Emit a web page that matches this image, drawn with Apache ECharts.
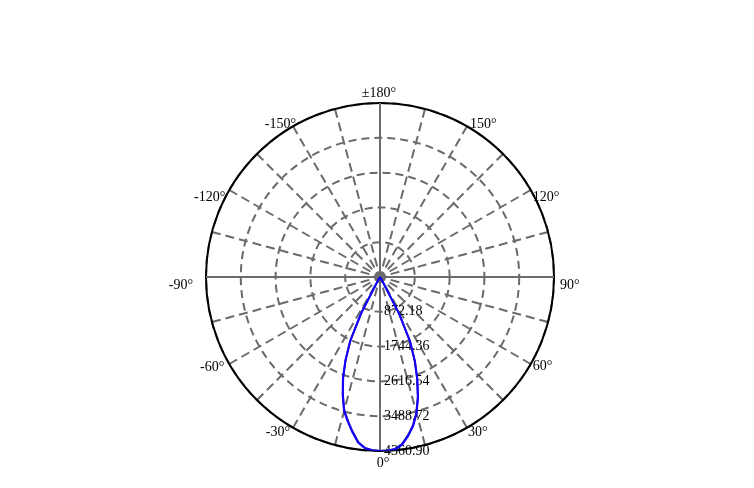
<!DOCTYPE html>
<html>
<head>
<meta charset="utf-8">
<script src="https://cdn.jsdelivr.net/npm/echarts@6/dist/echarts.min.js"></script>
<style>
html,body{margin:0;padding:0;background:#fff;}
#chart{width:754px;height:488px;}
</style>
</head>
<body>
<div id="chart"></div>
<script>
// ---- data ----
var radiusMax = 4360.90;
var radiusStep = 872.18;
var angleTickValues = [0, 30, 60, 90, 120, 150, 180, 210, 240, 270, 300, 330];
var angleTickLabels = ['0°','30°','60°','90°','120°','150°','±180°','-150°','-120°','-90°','-60°','-30°'];
// angles in degrees (negative = left side of the chart)
var curveAngles = [-90,-60,-45,-40,-35,-30,-27.5,-25,-22.5,-20,-17.5,-15,-12.5,-10,-7.5,-5,-2.5,0,2.5,5,7.5,10,12.5,15,17.5,20,22.5,25,27.5,30,35,40,45,60,90];
var planeC0  = [0,0,0,0,20,120,1030,1770,2270,2720,3110,3480,3720,3960,4190,4310,4352,4360.9,4358,4335,4240,4050,3830,3540,3170,2740,2290,1790,1050,120,20,0,0,0,0];
var planeC90 = [0,0,0,0,15,100,1000,1750,2250,2700,3090,3460,3700,3940,4170,4300,4348,4358,4354,4325,4225,4030,3810,3520,3150,2720,2270,1770,1020,110,15,0,0,0,0];
var crossA = [[radiusMax, 0], [0, 0], [radiusMax, 180]];
var crossB = [[radiusMax, 90], [0, 0], [radiusMax, 270]];
var hub = [[0, 0]];

// label placement styles (presentation only)
var labelStyle = {
  0:   { align: 'center', offset: [3, 12] },
  30:  { align: 'left',   offset: [1, 5] },
  60:  { align: 'left',   offset: [2, 2] },
  90:  { align: 'left',   offset: [6, 8] },
  120: { align: 'left',   offset: [2, 7] },
  150: { align: 'left',   offset: [3, -2] },
  180: { align: 'center', offset: [-1, -10] },
  210: { align: 'right',  offset: [3, -2] },
  240: { align: 'right',  offset: [-4, 7] },
  270: { align: 'right',  offset: [-13, 8] },
  300: { align: 'right',  offset: [-5, 3] },
  330: { align: 'right',  offset: [-3, 5] }
};

function toPairs(vals) {
  return curveAngles.map(function (a, i) { return [vals[i], (a + 360) % 360]; });
}

var font = 'Liberation Serif';
var labelData = angleTickValues.map(function (a, i) {
  var s = labelStyle[a];
  return {
    value: [radiusMax, a],
    label: {
      show: true, position: 'inside', align: s.align, verticalAlign: 'middle',
      offset: s.offset, color: '#000', fontFamily: font, fontSize: 14,
      textBorderWidth: 0, opacity: 1,
      formatter: angleTickLabels[i]
    }
  };
});

var chart = echarts.init(document.getElementById('chart'), null, {renderer: 'canvas'});
chart.setOption({
  animation: false,
  backgroundColor: '#ffffff',
  polar: { center: [380, 277], radius: 174 },
  angleAxis: {
    type: 'value', min: 0, max: 360, interval: 15,
    startAngle: -90, clockwise: false,
    axisLine: { show: true, lineStyle: { color: '#000', width: 2 } },
    axisTick: { show: false },
    axisLabel: { show: false },
    splitLine: { show: true, lineStyle: { color: '#6b6b6b', width: 2, type: [9, 5] } }
  },
  radiusAxis: {
    type: 'value', min: 0, max: radiusMax, interval: radiusStep,
    axisLine: { show: false },
    axisTick: { show: false },
    axisLabel: {
      show: true, margin: 4, color: '#000', fontFamily: font, fontSize: 14,
      formatter: function (v) { return v === 0 ? '' : v.toFixed(2); }
    },
    splitLine: { show: true, lineStyle: { color: '#6b6b6b', width: 2, type: [8, 5] } }
  },
  series: [
    { type: 'line', coordinateSystem: 'polar', data: crossA, symbol: 'none', silent: true,
      lineStyle: { color: '#6b6b6b', width: 2 }, z: 1 },
    { type: 'line', coordinateSystem: 'polar', data: crossB, symbol: 'none', silent: true,
      lineStyle: { color: '#6b6b6b', width: 2 }, z: 1 },
    { type: 'scatter', coordinateSystem: 'polar', data: hub, symbol: 'circle', symbolSize: 10,
      itemStyle: { color: '#6b6b6b' }, silent: true, z: 2 },
    { name: 'C90', type: 'line', coordinateSystem: 'polar', data: toPairs(planeC90), symbol: 'none',
      lineStyle: { color: '#2a1a9a', width: 2 }, z: 3 },
    { name: 'C0', type: 'line', coordinateSystem: 'polar', data: toPairs(planeC0), symbol: 'none',
      lineStyle: { color: '#1400ff', width: 2 }, z: 4 },
    { type: 'scatter', coordinateSystem: 'polar', data: labelData, symbol: 'circle', symbolSize: 0,
      itemStyle: { color: '#000' }, silent: true, z: 5 }
  ]
});
</script>
</body>
</html>
